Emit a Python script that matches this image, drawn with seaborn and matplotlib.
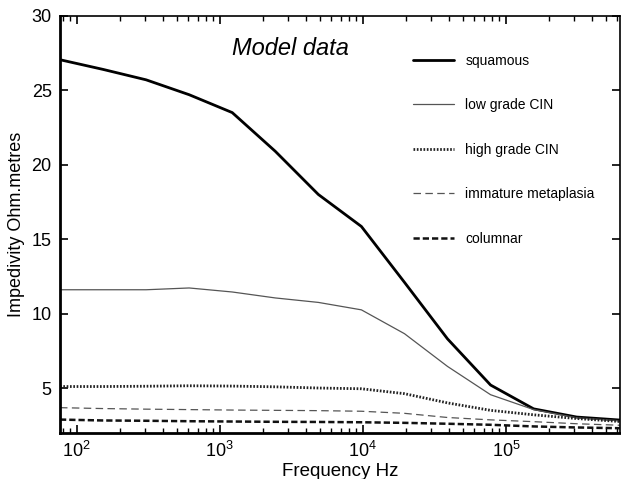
import numpy as np
import pandas as pd
import matplotlib
matplotlib.use("Agg")
import matplotlib.pyplot as plt
import seaborn as sns
from matplotlib.ticker import LogLocator, FixedLocator, NullFormatter

sns.set_style("ticks", {"axes.edgecolor": "black", "text.color": "black",
                        "axes.labelcolor": "black", "xtick.color": "black",
                        "ytick.color": "black"})
plt.rcParams['font.family'] = ['Liberation Sans', 'DejaVu Sans']
plt.rcParams['mathtext.fontset'] = 'custom'
plt.rcParams['mathtext.rm'] = 'Liberation Sans'

# Data
frequency = [76.3, 152.6, 305.2, 610.4, 1220.7, 2441.4, 4882.8, 9765.6,
             19531.0, 39062.0, 78125.0, 156250.0, 312500.0, 625000.0]
squamous = [27.05, 26.4, 25.7, 24.7, 23.5, 20.9, 18.0, 15.85, 12.1, 8.3, 5.2, 3.6, 3.05, 2.85]
low_grade_cin = [11.6, 11.6, 11.6, 11.72, 11.45, 11.05, 10.75, 10.25, 8.65, 6.45, 4.55, 3.55, 3.0, 2.8]
high_grade_cin = [5.1, 5.1, 5.12, 5.15, 5.13, 5.08, 5.0, 4.95, 4.62, 4.0, 3.5, 3.2, 2.95, 2.75]
immature_metaplasia = [3.68, 3.62, 3.58, 3.55, 3.52, 3.5, 3.48, 3.44, 3.3, 3.02, 2.86, 2.74, 2.6, 2.5]
columnar = [2.88, 2.82, 2.8, 2.77, 2.75, 2.73, 2.72, 2.7, 2.66, 2.6, 2.53, 2.42, 2.35, 2.3]

labels = ["squamous", "low grade CIN", "high grade CIN", "immature metaplasia", "columnar"]
series = [squamous, low_grade_cin, high_grade_cin, immature_metaplasia, columnar]

styles = {
    "squamous": dict(color="black", lw=2.0, ls="-"),
    "low grade CIN": dict(color="#555555", lw=0.9, ls="-"),
    "high grade CIN": dict(color="#222222", lw=2.0, ls=(0, (0.6, 0.6))),
    "immature metaplasia": dict(color="#555555", lw=0.9, ls=(0, (6, 3.5))),
    "columnar": dict(color="#111111", lw=1.8, ls=(0, (2.5, 1.2))),
}

df = pd.concat([pd.DataFrame({"freq": frequency, "imp": v, "tissue": lab})
                for lab, v in zip(labels, series)], ignore_index=True)

fig = plt.figure(figsize=(6.21, 4.79), dpi=100)
ax = fig.add_axes([0.0966, 0.0967, 0.9014, 0.8703])

for lab in labels:
    sub = df[df["tissue"] == lab]
    st = styles[lab]
    sns.lineplot(data=sub, x="freq", y="imp", ax=ax, color=st["color"],
                 linewidth=st["lw"], linestyle=st["ls"], label=lab,
                 estimator=None, sort=False)

ax.set_xscale("log")
ax.set_xlim(76.3, 625000)
ax.set_ylim(2, 30)
ax.set_yticks([5, 10, 15, 20, 25, 30])
ax.xaxis.set_major_locator(FixedLocator([1e2, 1e3, 1e4, 1e5]))
ax.xaxis.set_minor_locator(LogLocator(base=10, subs=np.arange(2, 10), numticks=20))
ax.xaxis.set_minor_formatter(NullFormatter())
ax.set_xticklabels([r"$10^2$", r"$10^3$", r"$10^4$", r"$10^5$"])

ax.tick_params(axis="both", which="major", direction="in", length=6, width=1.2,
               labelsize=13, top=True, right=True, pad=6, color="black",
               labelcolor="black")
ax.tick_params(axis="x", which="minor", direction="in", length=3.5, width=1.0,
               top=True, color="black")

for s in ["left", "bottom"]:
    ax.spines[s].set_linewidth(2.0)
for s in ["top", "right"]:
    ax.spines[s].set_linewidth(1.2)
for s in ax.spines.values():
    s.set_edgecolor("black")

ax.set_xlabel("Frequency Hz", fontsize=13.5, labelpad=1, color="black")
ax.set_ylabel("Impedivity Ohm.metres", fontsize=13, labelpad=5, color="black")

ax.text(0.4125, 0.922, "Model data", transform=ax.transAxes, fontsize=17,
        style="italic", ha="center", va="center", color="black")

leg = ax.legend(loc="upper left", bbox_to_anchor=(0.621, 0.9225), frameon=False,
                fontsize=10, handlelength=2.95, handletextpad=0.8,
                labelspacing=2.2, borderaxespad=0)
for t in leg.get_texts():
    t.set_color("black")

fig.savefig("out.png", dpi=100)
